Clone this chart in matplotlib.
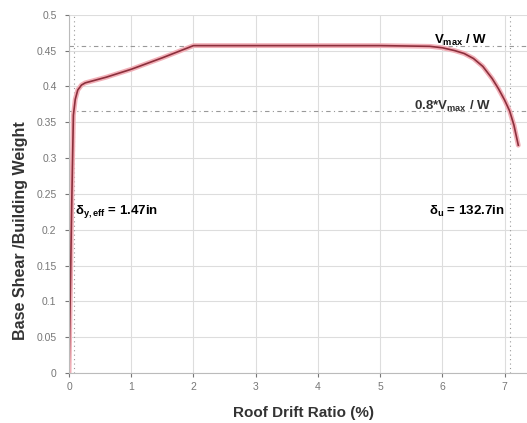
import matplotlib.pyplot as plt

plt.rcParams['font.family'] = ['Liberation Sans', 'DejaVu Sans']
plt.rcParams['mathtext.fontset'] = 'custom'
plt.rcParams['mathtext.rm'] = 'Liberation Sans'
plt.rcParams['mathtext.it'] = 'Liberation Sans:italic'
plt.rcParams['mathtext.bf'] = 'Liberation Sans:bold'

# pushover curve
drift = [0.0, 0.04, 0.07, 0.10, 0.14, 0.20, 0.26, 0.6, 1.0, 1.5, 2.0, 3.0, 4.0, 5.0, 5.8,
         6.0, 6.2, 6.35, 6.5, 6.65, 6.8, 6.9, 7.0, 7.08, 7.15, 7.22]
shear = [0.0, 0.22, 0.36, 0.382, 0.395, 0.402, 0.405, 0.413, 0.424, 0.440, 0.457, 0.457, 0.457,
         0.457, 0.456, 0.454, 0.450, 0.446, 0.439, 0.428, 0.411, 0.397, 0.381, 0.366, 0.346, 0.318]

v_max = 0.457
v_80 = 0.8 * v_max
d_yeff = 0.08
d_u = 7.08

xticks = [0, 1, 2, 3, 4, 5, 6, 7]
yticks = [0, 0.05, 0.1, 0.15, 0.2, 0.25, 0.3, 0.35, 0.4, 0.45, 0.5]
ytick_labels = ['0', '0.05', '0.1', '0.15', '0.2', '0.25', '0.3', '0.35', '0.4', '0.45', '0.5']

fig = plt.figure(figsize=(5.27, 4.23), dpi=100)
ax = fig.add_axes([0.131, 0.118, 0.869, 0.847])

ax.set_xlim(0, 7.36)
ax.set_ylim(0, 0.5)
ax.set_xticks(xticks)
ax.set_yticks(yticks)
ax.set_yticklabels(ytick_labels)
ax.grid(True, color='#dddddd', lw=0.8)
ax.set_axisbelow(True)
for s in ['top', 'right']:
    ax.spines[s].set_visible(False)
ax.spines['left'].set_color('#bbbbbb')
ax.spines['bottom'].set_color('#bbbbbb')
ax.tick_params(colors='#777777', labelsize=7.5, length=3)
ax.tick_params(axis='y', pad=6)

# reference lines
ax.axhline(v_max, color='#999999', ls=(0, (4, 3, 1, 3)), lw=0.8)
ax.axhline(v_80, color='#999999', ls=(0, (4, 3, 1, 3)), lw=0.8)
ax.axvline(d_yeff, color='#999999', ls=(0, (1, 3)), lw=0.8)
ax.axvline(d_u, color='#999999', ls=(0, (1, 3)), lw=0.8)

# curve with pink halo
ax.plot(drift, shear, color='#f2b0b8', lw=3.5, solid_capstyle='round')
ax.plot(drift, shear, color='#8c2f3c', lw=1.2)

fs = 9.5
ax.text(5.87, v_max + 0.002, r'$\mathbf{V_{max}}$ / W', fontsize=fs, fontweight='bold', ha='left', va='baseline')
ax.text(6.78, v_80 + 0.002, r'0.8*$\mathbf{V_{max}}$ / W', fontsize=fs, fontweight='bold', ha='right', va='baseline', color='#333333')
ax.text(0.1, 0.225, r'$\mathbf{\delta_{y,eff}}$ = 1.47in', fontsize=fs, fontweight='bold', va='center')
ax.text(7.0, 0.225, r'$\mathbf{\delta_u}$ = 132.7in', fontsize=fs, fontweight='bold', ha='right', va='center')

ax.set_xlabel('Roof Drift Ratio (%)', fontsize=11, fontweight='bold', color='#333333')
ax.set_ylabel('Base Shear /Building Weight', fontsize=11.5, fontweight='bold', color='#333333')
ax.xaxis.set_label_coords(0.512, -0.112)
ax.yaxis.set_label_coords(-0.107, 0.397)
ax.xaxis.label.set_va('center')
ax.yaxis.label.set_va('center')

fig.savefig('out.png', dpi=100)
